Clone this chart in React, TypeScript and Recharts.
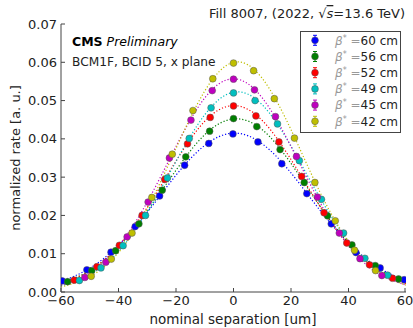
import React from "react";
import { ComposedChart, Line, Scatter, XAxis, YAxis } from "recharts";

const FONT = "'DejaVu Sans', sans-serif";
const FRAME = "#444";
const INK = "#222";

const xTicks = [-60, -40, -20, 0, 20, 40, 60];
const yTicks = [0, 0.01, 0.02, 0.03, 0.04, 0.05, 0.06, 0.07];

// scan points, one scan per beta*
const x60 = [-59.6, -51.0, -42.6, -34.2, -25.7, -17.0, -8.6, -0.2, 8.5, 16.8, 25.5, 34.0, 42.6, 51.0, 59.4];
const y60 = [0.0029, 0.0058, 0.0104, 0.0171, 0.0251, 0.0331, 0.0388, 0.0413, 0.0392, 0.0335, 0.0257, 0.0178, 0.0103, 0.0063, 0.0032];
const x56 = [-57.7, -49.3, -41.0, -32.9, -24.8, -16.6, -8.3, 0, 8.1, 16.2, 24.6, 32.7, 41.2, 49.3, 57.4];
const y56 = [0.0027, 0.0056, 0.0108, 0.0178, 0.0266, 0.0353, 0.042, 0.0453, 0.0432, 0.0372, 0.0286, 0.0199, 0.0123, 0.0069, 0.0034];
const x52 = [-55.4, -47.5, -39.7, -31.8, -23.9, -16.0, -8.1, 0, 7.8, 15.8, 23.7, 31.5, 39.4, 47.3, 55.3];
const y52 = [0.0031, 0.0066, 0.0122, 0.02, 0.0294, 0.0387, 0.0456, 0.0486, 0.046, 0.0392, 0.0302, 0.0207, 0.0128, 0.0071, 0.0036];
const x49 = [-53.6, -46.1, -38.4, -30.6, -23.0, -15.4, -7.8, 0, 7.5, 15.3, 22.9, 30.6, 38.3, 45.7, 53.6];
const y49 = [0.003, 0.0063, 0.0121, 0.02, 0.0298, 0.0401, 0.0481, 0.052, 0.05, 0.0439, 0.0343, 0.0242, 0.0154, 0.0088, 0.0044];
const x45 = [-51.7, -44.4, -37.0, -29.7, -22.3, -14.8, -7.4, 0, 7.3, 14.6, 21.9, 29.2, 36.8, 44.0, 51.6];
const y45 = [0.0038, 0.0078, 0.0144, 0.0235, 0.035, 0.0449, 0.0526, 0.0556, 0.0528, 0.0458, 0.0354, 0.0248, 0.0154, 0.0087, 0.0043];
const x42 = [-49.5, -42.5, -35.3, -28.4, -21.3, -14.1, -7.2, 0, 7.0, 14.2, 21.2, 28.3, 35.4, 42.1, 49.4];
const y42 = [0.0041, 0.0086, 0.0154, 0.0247, 0.036, 0.0474, 0.0557, 0.0598, 0.0578, 0.0505, 0.0402, 0.0286, 0.0186, 0.0109, 0.0056];

// dotted fit curves, read at every 10 um
const fitX = [-60, -50, -40, -30, -20, -10, 0, 10, 20, 30, 40, 50, 60];
const fit60 = [0.0027, 0.0062, 0.0122, 0.0208, 0.0305, 0.0383, 0.0415, 0.0387, 0.0311, 0.0214, 0.0128, 0.0066, 0.0029];
const fit56 = [0.0022, 0.0056, 0.0117, 0.0211, 0.0318, 0.0411, 0.0452, 0.0424, 0.0336, 0.0225, 0.0129, 0.0063, 0.0026];
const fit52 = [0.0021, 0.0055, 0.0121, 0.0221, 0.0342, 0.0446, 0.0487, 0.0448, 0.0346, 0.0225, 0.0124, 0.0058, 0.0022];
const fit49 = [0.0016, 0.0045, 0.0106, 0.0209, 0.0341, 0.0463, 0.0522, 0.0489, 0.0381, 0.0247, 0.0133, 0.0059, 0.0022];
const fit45 = [0.0018, 0.005, 0.012, 0.0235, 0.038, 0.0507, 0.0557, 0.0507, 0.038, 0.0235, 0.012, 0.005, 0.0018];
const fit42 = [0.0013, 0.004, 0.0103, 0.0218, 0.0375, 0.0525, 0.06, 0.0558, 0.0424, 0.0262, 0.0132, 0.0054, 0.0018];

const labels = ["60 cm", "56 cm", "52 cm", "49 cm", "45 cm", "42 cm"];
const colors = ["#0000ff", "#007f00", "#ff0000", "#00bfbf", "#bf00bf", "#bfbf00"];
const xs = [x60, x56, x52, x49, x45, x42];
const ys = [y60, y56, y52, y49, y45, y42];
const fits = [fit60, fit56, fit52, fit49, fit45, fit42];

const series = labels.map((label, i) => ({
  label,
  color: colors[i],
  points: xs[i].map((x, j) => ({ x, y: ys[i][j] })),
  fit: fitX.map((x, j) => ({ x, y: fits[i][j] })),
}));

const fmtX = (v: number) => (v < 0 ? "\u2212" + Math.abs(v) : String(v));

const BottomTick = (p: any) => (
  <g>
    <line x1={p.x} x2={p.x} y1={p.y} y2={p.y - 4} stroke={FRAME} />
    <text x={p.x} y={p.y + 13} textAnchor="middle" fontSize={13} fill={INK} fontFamily={FONT}>
      {fmtX(p.payload.value)}
    </text>
  </g>
);
const TopTick = (p: any) => <line x1={p.x} x2={p.x} y1={p.y} y2={p.y + 4} stroke={FRAME} />;
const LeftTick = (p: any) => (
  <g>
    <line x1={p.x} x2={p.x + 4} y1={p.y} y2={p.y} stroke={FRAME} />
    <text x={p.x - 4} y={p.y + 4.6} textAnchor="end" fontSize={13} fill={INK} fontFamily={FONT}>
      {p.payload.value.toFixed(2)}
    </text>
  </g>
);
const RightTick = (p: any) => <line x1={p.x} x2={p.x - 4} y1={p.y} y2={p.y} stroke={FRAME} />;

const Legend = () => (
  <svg width={101} height={102} style={{ position: "absolute", left: 300, top: 31 }}>
    <rect x={0.5} y={0.5} width={100} height={101} fill="#fff" stroke={FRAME} />
    {series.map((s, i) => {
      const cy = 9.3 + i * 16.2;
      return (
        <g key={s.label}>
          <line x1={15} x2={15} y1={cy - 5} y2={cy + 5} stroke={s.color} />
          <line x1={13} x2={17} y1={cy - 5} y2={cy - 5} stroke={s.color} />
          <line x1={13} x2={17} y1={cy + 5} y2={cy + 5} stroke={s.color} />
          <circle cx={15} cy={cy} r={3.4} fill={s.color} stroke="#555" strokeWidth={0.5} />
          <text x={35} y={cy + 4.2} fontSize={12} fontFamily={FONT} fill="#999">
            <tspan fontStyle="italic">β</tspan>
            <tspan fontSize={8} dy={-4}>*</tspan>
            <tspan dy={4}> =</tspan>
            <tspan fill={INK}>{s.label}</tspan>
          </text>
        </g>
      );
    })}
  </svg>
);

const Texts = () => (
  <svg width={413} height={328} style={{ position: "absolute", left: 0, top: 0, pointerEvents: "none" }}>
    <text x={405} y={18} textAnchor="end" fontSize={13} fill={INK} fontFamily={FONT}>
      Fill 8007, (2022, <tspan>√</tspan>
      <tspan fontStyle="italic" textDecoration="overline">s</tspan>=13.6 TeV)
    </text>
    <text x={72} y={46} fontSize={12.5} fill="#000" fontFamily={FONT}>
      <tspan fontWeight="bold">CMS</tspan>
      <tspan fontStyle="italic"> Preliminary</tspan>
    </text>
    <text x={72} y={66} fontSize={12.2} fill={INK} fontFamily={FONT}>
      BCM1F, BCID 5, x plane
    </text>
    <text x={233} y={324} textAnchor="middle" fontSize={13.5} fill={INK} fontFamily={FONT}>
      nominal separation [um]
    </text>
    <text
      x={20}
      y={158}
      textAnchor="middle"
      fontSize={13}
      fill={INK}
      fontFamily={FONT}
      transform="rotate(-90 20 158)"
    >
      normalized rate [a. u.]
    </text>
  </svg>
);

export default function App() {
  return (
    <div style={{ position: "absolute", left: 0, top: 0, width: 413, height: 328, background: "#fff" }}>
      <ComposedChart width={413} height={328} margin={{ top: 24, right: 7, bottom: 0, left: 0 }}>
        <XAxis
          dataKey="x"
          type="number"
          domain={[-60, 60]}
          ticks={xTicks}
          height={36}
          tickSize={0}
          tickMargin={0}
          tickLine={false}
          tick={BottomTick}
          axisLine={{ stroke: FRAME }}
          allowDataOverflow
        />
        <XAxis
          xAxisId="top"
          orientation="top"
          type="number"
          domain={[-60, 60]}
          ticks={xTicks}
          height={0}
          tickSize={0}
          tickMargin={0}
          tickLine={false}
          tick={TopTick}
          axisLine={{ stroke: FRAME }}
          allowDataOverflow
        />
        <YAxis
          type="number"
          domain={[0, 0.07]}
          ticks={yTicks}
          width={61}
          tickSize={0}
          tickMargin={0}
          tickLine={false}
          tick={LeftTick}
          axisLine={{ stroke: FRAME }}
          allowDataOverflow
        />
        <YAxis
          yAxisId="right"
          orientation="right"
          type="number"
          domain={[0, 0.07]}
          ticks={yTicks}
          width={0}
          tickSize={0}
          tickMargin={0}
          tickLine={false}
          tick={RightTick}
          axisLine={{ stroke: FRAME }}
          allowDataOverflow
        />
        {series.map((s) => (
          <Line
            key={"fit" + s.label}
            data={s.fit}
            dataKey="y"
            type="natural"
            stroke={s.color}
            strokeWidth={1.2}
            strokeDasharray="1.2 2"
            dot={false}
            activeDot={false}
            isAnimationActive={false}
          />
        ))}
        {series.map((s) => (
          <Scatter
            key={"pts" + s.label}
            data={s.points}
            dataKey="y"
            fill={s.color}
            isAnimationActive={false}
            shape={(p: any) => (
              <circle cx={p.cx} cy={p.cy} r={3.4} fill={s.color} stroke="#555" strokeWidth={0.5} />
            )}
          />
        ))}
      </ComposedChart>
      <Texts />
      <Legend />
    </div>
  );
}
